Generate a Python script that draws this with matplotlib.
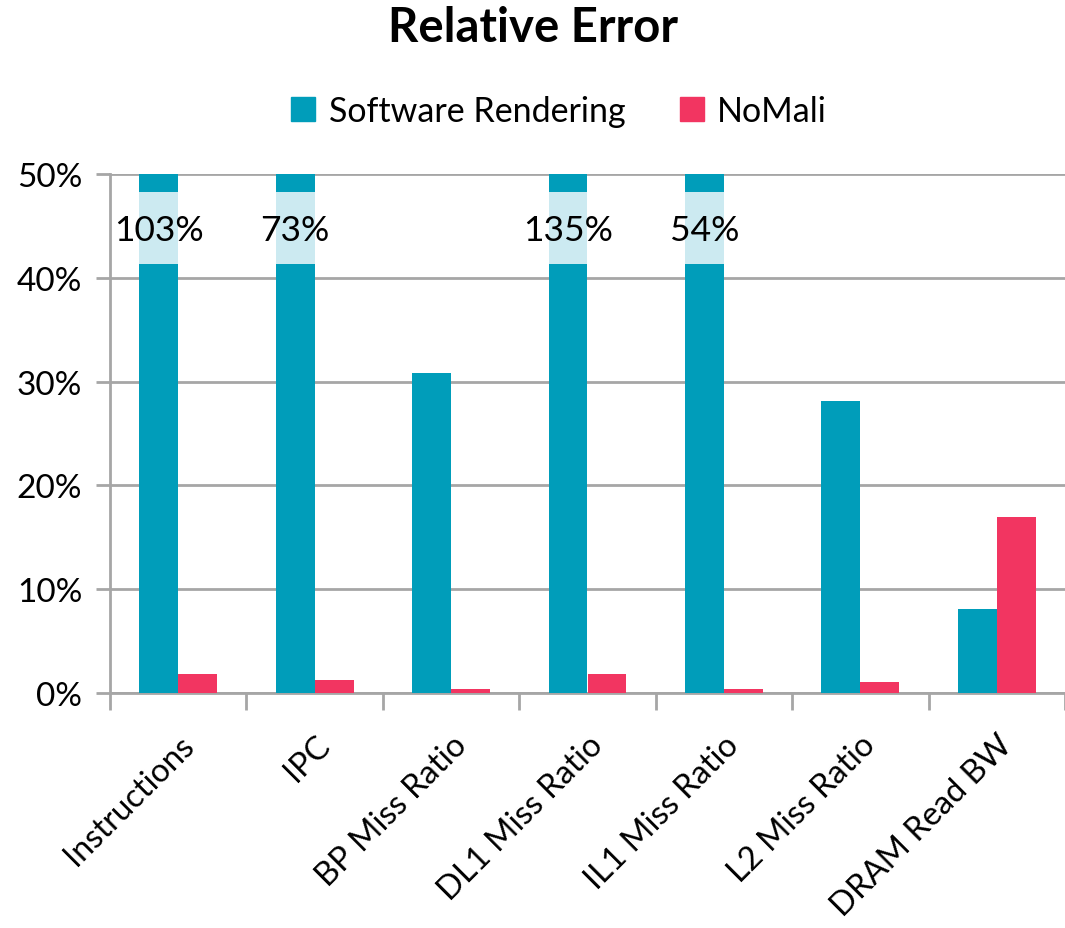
import matplotlib
matplotlib.use('Agg')
from matplotlib import pyplot as plt
from matplotlib.patches import Patch
import numpy as np

plt.rcParams['font.family'] = ['Lato', 'DejaVu Sans']

categories = ['Instructions', 'IPC', 'BP Miss Ratio', 'DL1 Miss Ratio',
              'IL1 Miss Ratio', 'L2 Miss Ratio', 'DRAM Read BW']
software = [103, 73, 30.8, 135, 54, 28.1, 8.1]
nomali = [1.8, 1.3, 0.4, 1.8, 0.4, 1.1, 17.0]
yticks = [0, 10, 20, 30, 40, 50]

c_sw = '#009DBA'
c_nm = '#F23561'
c_band = '#CCEAF1'
c_grid = '#A6A6A6'
ymax = 50

fig = plt.figure(figsize=(10.65, 9.29), dpi=100)
ax = fig.add_axes([110/1065, 1 - 694/929, 955/1065, (694-175)/929])

x = np.arange(len(categories))
w = 0.285
sw_clip = np.minimum(software, ymax)
ax.bar(x - w/2, sw_clip, w, color=c_sw, zorder=3, label='Software Rendering')
ax.bar(x + w/2, nomali, w, color=c_nm, zorder=3, label='NoMali')

# break band for values above the axis limit
for xi, v in zip(x, software):
    if v > ymax:
        ax.bar(xi - w/2, 7.0, w, bottom=41.3, color=c_band, zorder=4)
        ax.text(xi - w/2, 44.6, f'{v:g}%', ha='center', va='center',
                fontsize=25.5, color='black', zorder=5)

ax.set_ylim(0, ymax)
ax.set_xlim(-0.5, 6.47)
ax.set_yticks(yticks)
ax.set_yticklabels([f'{t}%' for t in yticks], fontsize=24)
ax.yaxis.grid(True, color=c_grid, linewidth=2, zorder=0)
ax.tick_params(axis='y', length=10, width=2, color=c_grid, pad=10)

ax.set_xticks(x)
ax.set_xticklabels(categories, rotation=45, ha='right', rotation_mode='anchor',
                   fontsize=23.5)
ax.tick_params(axis='x', which='major', length=0, pad=26)
ax.set_xticks(np.arange(-0.5, len(categories), 1), minor=True)
ax.tick_params(axis='x', which='minor', length=12, width=2, color=c_grid)

for s in ['top', 'right']:
    ax.spines[s].set_visible(False)
for s in ['left', 'bottom']:
    ax.spines[s].set_color(c_grid)
    ax.spines[s].set_linewidth(2)

handles = [Patch(color=c_sw), Patch(color=c_nm)]
fig.legend(handles, ['Software Rendering', 'NoMali'], loc='center',
           bbox_to_anchor=(0.525, 1 - 112/929), ncol=2, frameon=False,
           fontsize=24.5, handlelength=0.7, handleheight=0.7,
           handletextpad=0.4, columnspacing=1.6)

fig.suptitle('Relative Error', fontsize=34, fontweight='bold', y=1 - 28/929, va='center')

fig.savefig('out.png', dpi=100)
